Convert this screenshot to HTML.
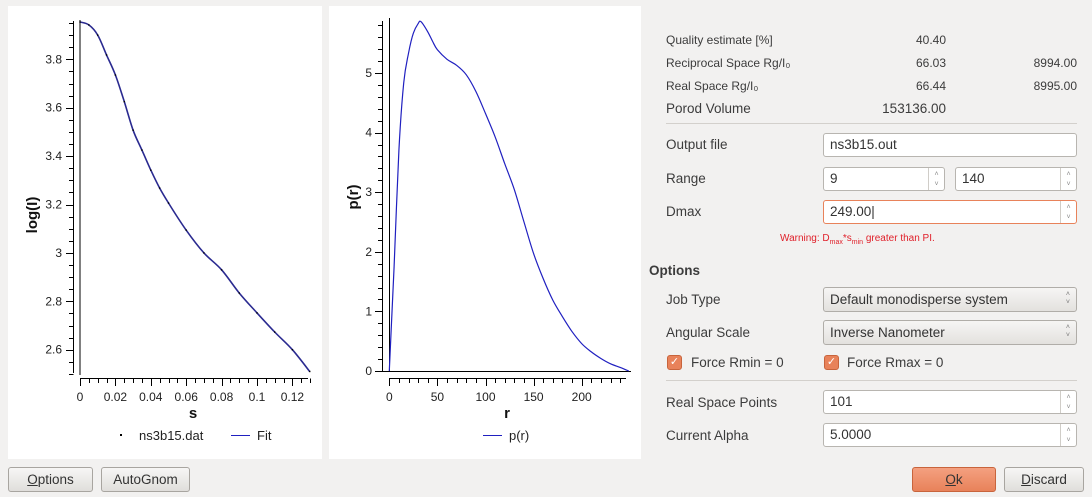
<!DOCTYPE html>
<html><head><meta charset="utf-8">
<style>
*{box-sizing:border-box;margin:0;padding:0}
body{width:1092px;height:497px;background:#f2f1f0;font-family:"Liberation Sans","DejaVu Sans",sans-serif;color:#3c3c3c;position:relative;overflow:hidden;font-size:13px}
.abs{position:absolute}
.panel{position:absolute;background:#fff}
.inp{position:absolute;background:#fff;border:1px solid #b8b5b0;border-radius:3px;height:24px;padding:3px 6px;font-size:13.5px;color:#333}
.spin{position:absolute;right:0;top:0;bottom:0;width:16px;border-left:1px solid #d0cdc8;font-size:7px;color:#888;text-align:center;line-height:10px;padding-top:2px}
.combo{position:absolute;border:1px solid #b0ada8;border-radius:3px;height:25px;background:linear-gradient(#f6f5f4,#e3e1de);padding:4px 6px;font-size:13.5px;color:#333}
.lbl{position:absolute;font-size:13.5px;color:#3c3c3c}
.small{font-size:12px}
.btn{position:absolute;height:25px;border:1px solid #a8a5a0;border-radius:3px;background:linear-gradient(#f7f6f5,#e0dedb);font-size:13.5px;text-align:center;line-height:23px;color:#333}
.chk{position:absolute;width:15px;height:15px;border-radius:3px;background:#e8825a;border:1px solid #c8643c;color:#fff;font-size:11px;line-height:13px;text-align:center}
.sep{position:absolute;height:1px;background:#d3d0cc}
</style></head><body>

<div class="panel" style="left:8px;top:6px;width:314px;height:453px">
<svg id="svg1" width="314" height="453" style="position:absolute;left:-8px;top:-6px;overflow:visible"></svg>
</div>
<div class="panel" style="left:329px;top:6px;width:312px;height:453px">
<svg id="svg2" width="312" height="453" style="position:absolute;left:-329px;top:-6px;overflow:visible"></svg>
</div>

<div class="lbl small" style="left:666px;top:33px">Quality estimate [%]</div>
<div class="lbl small" style="left:846px;width:100px;text-align:right;top:33px">40.40</div>
<div class="lbl small" style="left:666px;top:56px">Reciprocal Space Rg/I₀</div>
<div class="lbl small" style="left:846px;width:100px;text-align:right;top:56px">66.03</div>
<div class="lbl small" style="left:977px;width:100px;text-align:right;top:56px">8994.00</div>
<div class="lbl small" style="left:666px;top:79px">Real Space Rg/I₀</div>
<div class="lbl small" style="left:846px;width:100px;text-align:right;top:79px">66.44</div>
<div class="lbl small" style="left:977px;width:100px;text-align:right;top:79px">8995.00</div>
<div class="lbl" style="left:666px;top:101px">Porod Volume</div>
<div class="lbl" style="left:826px;width:120px;text-align:right;top:101px">153136.00</div>
<div class="sep" style="left:666px;top:123px;width:411px"></div>

<div class="lbl" style="left:666px;top:137px">Output file</div>
<div class="inp" style="left:823px;top:133px;width:254px">ns3b15.out</div>
<div class="lbl" style="left:666px;top:171px">Range</div>
<div class="inp" style="left:823px;top:167px;width:122px">9<div class="spin">˄<br>˅</div></div>
<div class="inp" style="left:955px;top:167px;width:122px">140<div class="spin">˄<br>˅</div></div>
<div class="lbl" style="left:666px;top:204px">Dmax</div>
<div class="inp" style="left:823px;top:200px;width:254px;border-color:#e8825a">249.00|<div class="spin">˄<br>˅</div></div>
<div class="abs" style="left:780px;top:233px;font-size:10px;color:#e0202a">Warning: D<sub style="font-size:7px">max</sub>*s<sub style="font-size:7px">min</sub> greater than PI.</div>

<div class="lbl" style="left:649px;top:263px;font-weight:bold">Options</div>
<div class="lbl" style="left:666px;top:292px">Job Type</div>
<div class="combo" style="left:823px;top:287px;width:254px">Default monodisperse system<span style="position:absolute;right:6px;top:3px;font-size:7px;line-height:8px;color:#777">˄<br>˅</span></div>
<div class="lbl" style="left:666px;top:325px">Angular Scale</div>
<div class="combo" style="left:823px;top:320px;width:254px">Inverse Nanometer<span style="position:absolute;right:6px;top:3px;font-size:7px;line-height:8px;color:#777">˄<br>˅</span></div>
<div class="chk" style="left:667px;top:355px">✓</div>
<div class="lbl" style="left:691px;top:355px">Force Rmin = 0</div>
<div class="chk" style="left:824px;top:355px">✓</div>
<div class="lbl" style="left:847px;top:355px">Force Rmax = 0</div>
<div class="sep" style="left:666px;top:380px;width:411px"></div>
<div class="lbl" style="left:666px;top:395px">Real Space Points</div>
<div class="inp" style="left:823px;top:390px;width:254px">101<div class="spin">˄<br>˅</div></div>
<div class="lbl" style="left:666px;top:428px">Current Alpha</div>
<div class="inp" style="left:823px;top:423px;width:254px">5.0000<div class="spin">˄<br>˅</div></div>

<div class="btn" style="left:8px;top:467px;width:85px"><u>O</u>ptions</div>
<div class="btn" style="left:101px;top:467px;width:89px">AutoGnom</div>
<div class="btn" style="left:912px;top:467px;width:84px;background:linear-gradient(#f4a080,#e8825a);border-color:#c8643c"><u>O</u>k</div>
<div class="btn" style="left:1004px;top:467px;width:80px"><u>D</u>iscard</div>

<script>
const sVals=[0,0.005,0.01,0.015,0.02,0.025,0.03,0.035,0.04,0.045,0.05,0.06,0.07,0.08,0.09,0.1,0.11,0.12,0.1298];
const logIVals=[3.954,3.942,3.90,3.818,3.735,3.625,3.507,3.425,3.342,3.268,3.206,3.094,3.0,2.93,2.834,2.752,2.673,2.60,2.51];
const sTicks=["0","0.02","0.04","0.06","0.08","0.1","0.12"];
const logITicks=["2.6","2.8","3","3.2","3.4","3.6","3.8"];
const rVals=[0,2,5,10,15,20,25,30,33,40,45,50,60,70,80,90,100,110,120,130,140,150,160,170,180,190,200,210,220,230,240,249];
const prVals=[0,0.7,1.75,3.7,4.83,5.33,5.67,5.83,5.86,5.69,5.53,5.39,5.23,5.13,4.97,4.69,4.32,3.93,3.48,3.04,2.5,1.97,1.55,1.19,0.91,0.66,0.46,0.32,0.21,0.12,0.06,0];
const rTicks=["0","50","100","150","200"];
const prTicks=["0","1","2","3","4","5"];

const NS='http://www.w3.org/2000/svg';
function mk(svg,tag,attrs,name,text){
  const e=document.createElementNS(NS,tag);
  for(const k in attrs)e.setAttribute(k,attrs[k]);
  
  
  if(text!==undefined)e.textContent=text;
  svg.appendChild(e);return e;
}
function line(svg,x1,y1,x2,y2,name,c){return mk(svg,'line',{x1,y1,x2,y2,stroke:c||'#000','stroke-width':1},name);}
function smooth(p){
  let d='M'+p[0][0].toFixed(1)+','+p[0][1].toFixed(1);
  for(let i=0;i<p.length-1;i++){
    const p0=p[Math.max(0,i-1)],p1=p[i],p2=p[i+1],p3=p[Math.min(p.length-1,i+2)];
    const c1=[p1[0]+(p2[0]-p0[0])/6,p1[1]+(p2[1]-p0[1])/6],c2=[p2[0]-(p3[0]-p1[0])/6,p2[1]-(p3[1]-p1[1])/6];
    d+=' C'+c1[0].toFixed(1)+','+c1[1].toFixed(1)+' '+c2[0].toFixed(1)+','+c2[1].toFixed(1)+' '+p2[0].toFixed(1)+','+p2[1].toFixed(1);
  }
  return d;
}

// Plot 1
(function(){
  const svg=document.getElementById('svg1');
  const X=s=>80+s*(35.4/0.02), Y=v=>59.3+(3.8-v)*242;
  line(svg,80,20,80,375,'canvas-left-border');
  line(svg,73.5,21,73.5,373,'y-axis-line');
  for(let v=2.5;v<=3.951;v+=0.05){const y=Math.round(Y(v))+0.5;const maj=Math.abs(v*5-Math.round(v*5))<0.01;line(svg,maj?66:69,y,73.5,y,'y-tick');}
  logITicks.forEach(t=>{mk(svg,'text',{x:62,y:Y(+t)+4,'text-anchor':'end','font-size':12,fill:'#222'},'y-tick-label',t);});
  line(svg,80,378.5,308,378.5,'x-axis-line');
  for(let s=0;s<=0.1301;s+=0.005){const x=Math.round(X(s))+0.5;const maj=Math.abs(s*50-Math.round(s*50))<0.01;line(svg,x,378.5,x,maj?386:383,'x-tick');}
  sTicks.forEach(t=>{mk(svg,'text',{x:X(+t),y:401,'text-anchor':'middle','font-size':12,fill:'#222'},'x-tick-label',t);});
  mk(svg,'text',{x:193,y:418,'text-anchor':'middle','font-size':15,'font-weight':'bold',fill:'#111'},'x-axis-title','s');
  mk(svg,'text',{x:0,y:0,'text-anchor':'middle','font-size':15,'font-weight':'bold',fill:'#111',transform:'translate(37,215) rotate(-90)'},'y-axis-title','log(I)');
  const pts=sVals.map((s,i)=>[X(s),Y(logIVals[i])]);
  mk(svg,'path',{d:smooth(pts),fill:'none',stroke:'#2a2a90','stroke-width':1.6},'fit-line');
  sVals.forEach((s,i)=>mk(svg,'rect',{x:X(s)-0.7,y:Y(logIVals[i])-0.7,width:1.4,height:1.4,fill:'#000'},'data-point'));
  mk(svg,'rect',{x:120,y:434,width:2,height:2,fill:'#000'},'legend-data-marker');
  mk(svg,'text',{x:139,y:440,'font-size':13,fill:'#222'},'legend-data-label','ns3b15.dat');
  line(svg,231,435.5,250,435.5,'legend-fit-line','#2020c0');
  mk(svg,'text',{x:257,y:440,'font-size':13,fill:'#222'},'legend-fit-label','Fit');
})();

// Plot 2
(function(){
  const svg=document.getElementById('svg2');
  const X=r=>389.3+r*0.962, Y=v=>371+-v*59.6;
  line(svg,389.5,18,389.5,371,'canvas-left-border');
  line(svg,378,371.5,631,371.5,'zero-line');
  line(svg,382.5,21,382.5,372,'y-axis-line');
  for(let i=0;i<=29;i++){const v=i*0.2;const y=Math.round(Y(v))+0.5;const maj=i%5===0;line(svg,maj?375:378,y,382.5,y,'y-tick');}
  prTicks.forEach(t=>{mk(svg,'text',{x:372,y:Y(+t)+4,'text-anchor':'end','font-size':12,fill:'#222'},'y-tick-label',t);});
  line(svg,389,378.5,626,378.5,'x-axis-line');
  for(let r=0;r<=245;r+=10){const x=Math.round(X(r))+0.5;const maj=r%50===0;line(svg,x,378.5,x,maj?386:383,'x-tick');}
  rTicks.forEach(t=>{mk(svg,'text',{x:X(+t),y:401,'text-anchor':'middle','font-size':12,fill:'#222'},'x-tick-label',t);});
  mk(svg,'text',{x:507,y:418,'text-anchor':'middle','font-size':15,'font-weight':'bold',fill:'#111'},'x-axis-title','r');
  mk(svg,'text',{x:0,y:0,'text-anchor':'middle','font-size':15,'font-weight':'bold',fill:'#111',transform:'translate(358,197) rotate(-90)'},'y-axis-title','p(r)');
  const pts=rVals.map((r,i)=>[X(r),Y(prVals[i])]);
  mk(svg,'path',{d:smooth(pts),fill:'none',stroke:'#2020c0','stroke-width':1.2},'pr-line');
  line(svg,483,435.5,502,435.5,'legend-pr-line','#2020c0');
  mk(svg,'text',{x:509,y:440,'font-size':13,fill:'#222'},'legend-pr-label','p(r)');
})();
</script>
</body></html>
